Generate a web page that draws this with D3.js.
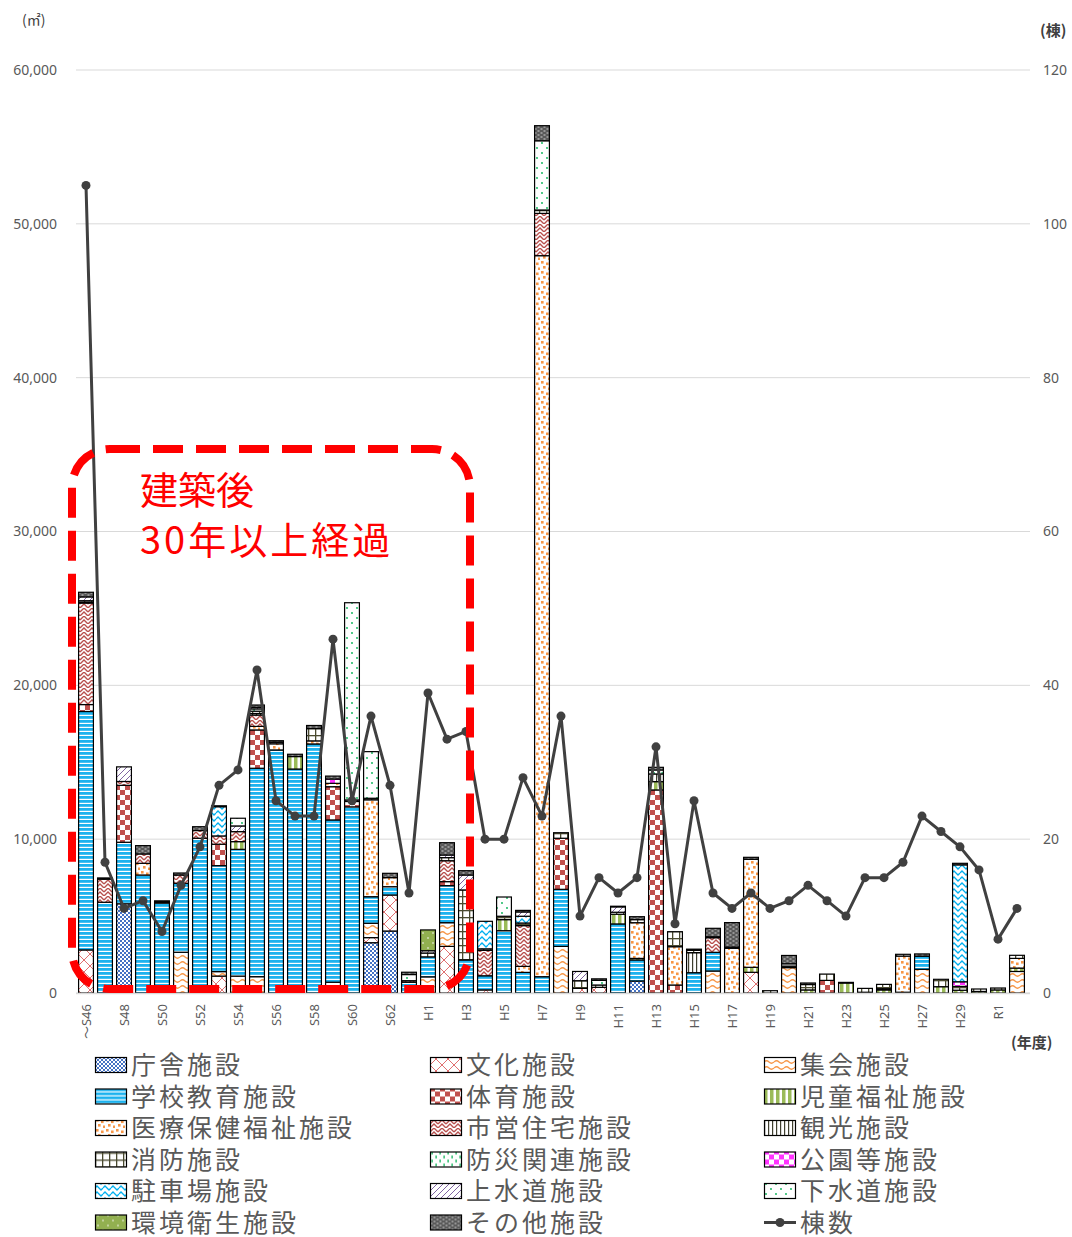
<!DOCTYPE html>
<html lang="ja">
<head>
<meta charset="utf-8">
<script src="https://cdn.jsdelivr.net/npm/d3@7"></script>
<style>
  html, body { margin: 0; padding: 0; background: #fff; }
  svg { display: block; font-family: "Noto Sans CJK JP", "Noto Sans", sans-serif; }
</style>
</head>
<body>
<script>
// 年度区分
const categories = [
  "～S46","S47","S48","S49","S50","S51","S52","S53","S54","S55",
  "S56","S57","S58","S59","S60","S61","S62","S63","H1","H2",
  "H3","H4","H5","H6","H7","H8","H9","H10","H11","H12",
  "H13","H14","H15","H16","H17","H18","H19","H20","H21","H22",
  "H23","H24","H25","H26","H27","H28","H29","H30","R1","R2"
];
const tickLabels = ["～S46","S48","S50","S52","S54","S56","S58","S60","S62","H1","H3","H5","H7",
  "H9","H11","H13","H15","H17","H19","H21","H23","H25","H27","H29","R1"];
const areaTicks = [0, 10000, 20000, 30000, 40000, 50000, 60000];
const countTicks = [0, 20, 40, 60, 80, 100, 120];

// 施設分類別 延床面積（㎡）
const chosha = [
  0,0,5800,0,0,0,0,0,0,0,
  0,0,0,0,0,3270,4030,0,0,0,
  0,0,0,0,0,0,0,0,0,780,
  0,0,0,0,0,0,0,0,0,0,
  0,0,0,0,0,0,0,0,0,0];
const bunka = [
  2800,0,0,0,0,0,0,1100,0,0,
  0,0,0,0,0,330,2340,0,0,3030,
  0,200,0,0,0,0,300,370,0,0,
  0,0,0,0,0,1345,0,0,0,0,
  0,0,0,0,0,0,0,0,0,0];
const shukai = [
  0,0,0,0,0,2650,0,290,1100,1060,
  0,0,0,700,0,930,0,0,1050,1540,
  0,0,0,0,0,3030,0,0,0,0,
  0,0,0,1430,0,0,0,1650,0,0,
  0,0,0,0,1540,0,0,0,0,1400];
const gakko = [
  15500,5900,4000,7670,5850,4480,10060,6890,8240,13550,
  15800,14560,16190,10550,12100,1730,540,700,1300,2410,
  2150,920,4050,1340,1060,3710,0,0,4490,1370,
  0,0,1320,1215,0,0,0,0,0,0,
  0,0,0,0,850,0,0,0,0,0];
const taiiku = [
  450,0,3700,0,0,0,0,1390,0,2490,
  0,0,0,2160,350,0,0,0,0,260,
  0,0,0,0,0,3320,0,0,0,0,
  13200,520,0,0,0,0,0,0,0,820,
  0,0,0,50,0,0,0,0,0,0];
const jido = [
  0,0,0,0,0,0,0,0,500,0,
  0,810,0,0,0,0,0,0,0,0,
  0,0,720,0,0,0,0,0,630,100,
  540,0,0,0,0,325,0,0,200,0,
  650,50,200,0,0,410,180,100,200,220];
const iryo = [
  0,0,0,760,0,0,0,0,0,230,
  400,0,200,220,0,6300,590,0,0,0,
  0,0,0,390,46870,0,0,0,0,2320,
  0,2490,0,0,2905,7020,0,0,0,0,
  0,0,0,2350,0,0,0,0,0,630];
const jutaku = [
  6600,1500,250,610,60,540,500,540,650,740,
  0,0,0,0,0,0,0,100,0,1360,
  0,1650,0,2650,2750,0,0,0,0,0,
  0,0,0,950,0,0,0,0,0,0,
  0,0,80,0,0,0,0,0,0,0];
const kanko = [
  50,0,0,0,0,0,0,0,0,100,
  0,0,0,0,0,0,0,0,0,0,
  0,0,0,0,0,0,0,0,0,0,
  500,0,1300,0,0,0,0,0,0,0,
  0,0,0,0,0,0,0,0,0,0];
const shobo = [
  100,0,0,0,0,0,0,0,0,150,
  0,0,800,0,0,100,0,0,250,200,
  4550,100,220,170,220,360,500,150,130,200,
  0,975,150,60,80,0,150,100,350,410,
  0,250,280,115,0,480,250,160,125,200];
const bosai = [
  0,0,0,0,0,0,0,0,0,150,
  0,0,0,0,0,0,0,0,0,0,
  0,0,0,0,0,0,0,0,0,0,
  260,0,0,0,0,0,0,0,0,0,
  0,0,0,0,0,0,0,0,0,0];
const koen = [
  0,0,0,0,0,0,0,0,0,0,
  0,0,0,280,0,0,0,0,0,0,
  0,0,0,0,0,0,0,0,0,0,
  0,0,0,0,0,0,0,0,0,0,
  0,0,0,0,0,0,300,0,0,0];
const chusha = [
  0,0,0,0,0,0,0,1900,0,0,
  0,0,0,0,0,0,0,0,0,0,
  0,1790,0,440,0,0,0,0,0,0,
  0,0,0,0,0,0,0,0,0,0,
  0,0,0,0,0,0,7600,0,0,0];
const josui = [
  250,0,950,0,0,0,0,0,370,100,
  100,0,0,0,100,0,0,0,150,170,
  970,0,0,280,0,0,600,0,350,0,
  0,0,0,0,0,0,0,0,0,0,
  0,0,0,0,0,0,0,0,0,0];
const gesui = [
  0,0,0,0,0,0,0,0,500,0,
  0,0,0,0,12820,3030,0,400,0,0,
  0,0,1250,0,4500,0,0,300,0,0,
  0,0,0,0,0,0,0,150,0,0,
  0,0,0,0,0,0,0,0,0,0];
const kankyo = [
  0,0,0,0,0,0,0,0,0,0,
  0,0,0,0,0,0,0,0,1350,0,
  0,0,0,0,0,0,0,0,0,0,
  0,0,0,0,0,0,0,0,0,0,
  0,0,0,0,0,0,0,0,0,0];
const sonota = [
  300,80,0,540,80,130,250,60,0,150,
  100,150,200,190,0,0,280,150,0,800,
  280,0,0,100,980,0,0,100,40,190,
  170,0,80,550,1590,130,0,540,100,0,
  40,0,0,0,150,0,100,0,0,0];

// 棟数
const buildings = [
  105,17,11,12,8,14,19,27,29,42,
  25,23,23,46,25,36,27,13,39,33,
  34,20,20,28,23,36,10,15,13,15,
  32,9,25,13,11,13,11,12,14,12,
  10,15,15,17,23,21,19,16,7,11];

const seriesKeys = ["chosha","bunka","shukai","gakko","taiiku","jido","iryo","jutaku","kanko",
  "shobo","bosai","koen","chusha","josui","gesui","kankyo","sonota"];
const seriesNames = ["庁舎施設","文化施設","集会施設","学校教育施設","体育施設","児童福祉施設",
  "医療保健福祉施設","市営住宅施設","観光施設","消防施設","防災関連施設","公園等施設",
  "駐車場施設","上水道施設","下水道施設","環境衛生施設","その他施設"];
const seriesValues = { chosha, bunka, shukai, gakko, taiiku, jido, iryo, jutaku, kanko,
  shobo, bosai, koen, chusha, josui, gesui, kankyo, sonota };

const rows = categories.map((c, i) => {
  const r = { year: c };
  seriesKeys.forEach(k => r[k] = seriesValues[k][i]);
  return r;
});

const W = 1072, H = 1237;
const svg = d3.select("body").append("svg").attr("width", W).attr("height", H);
const defs = svg.append("defs");

// hatch fills
function pat(id, w, h, bg) {
  const p = defs.append("pattern").attr("id", "p-" + id)
    .attr("patternUnits", "userSpaceOnUse").attr("width", w).attr("height", h);
  p.append("rect").attr("width", w).attr("height", h).attr("fill", bg);
  return p;
}
let p;
p = pat("chosha", 4, 4, "#ffffff");
p.append("rect").attr("x", 0).attr("y", 0).attr("width", 2).attr("height", 2).attr("fill", "#4472c4");
p.append("rect").attr("x", 2).attr("y", 2).attr("width", 2).attr("height", 2).attr("fill", "#4472c4");

p = pat("bunka", 12, 12, "#ffffff");
p.append("path").attr("d", "M0,0L12,12M12,0L0,12").attr("stroke", "#e07070").attr("stroke-width", 1).attr("fill", "none");

p = pat("shukai", 10, 6, "#ffffff");
p.append("path").attr("d", "M0,3 Q2.5,0.5 5,3 T10,3").attr("stroke", "#f79646").attr("stroke-width", 1.2).attr("fill", "none");

p = pat("gakko", 4, 4, "#ffffff");
p.append("rect").attr("x", 0).attr("y", 0).attr("width", 4).attr("height", 2.8).attr("fill", "#1cb2ee");

p = pat("taiiku", 10, 10, "#ffffff");
p.append("rect").attr("x", 0).attr("y", 0).attr("width", 5).attr("height", 5).attr("fill", "#c0504d");
p.append("rect").attr("x", 5).attr("y", 5).attr("width", 5).attr("height", 5).attr("fill", "#c0504d");

p = pat("jido", 6, 6, "#ffffff");
p.append("rect").attr("x", 0).attr("y", 0).attr("width", 3.5).attr("height", 6).attr("fill", "#9bbb59");

p = pat("iryo", 10, 10, "#ffffff");
[[1,1],[6,2.5],[3,6],[8,7.5]].forEach(([x, y]) =>
  p.append("rect").attr("x", x).attr("y", y).attr("width", 2.6).attr("height", 2.6).attr("fill", "#f79646"));

p = pat("jutaku", 8, 8, "#ffffff");
p.append("path").attr("d", "M0,4 L4,0 L8,4 M0,8 L4,4 L8,8").attr("stroke", "#b8504d").attr("stroke-width", 1.4).attr("fill", "none");

p = pat("kanko", 4, 4, "#ffffff");
p.append("rect").attr("x", 0).attr("y", 0).attr("width", 1.2).attr("height", 4).attr("fill", "#3f3f2f");

p = pat("shobo", 7, 7, "#ffffff");
p.append("rect").attr("x", 0).attr("y", 0).attr("width", 1.3).attr("height", 7).attr("fill", "#4a4a30");
p.append("rect").attr("x", 0).attr("y", 0).attr("width", 7).attr("height", 1.3).attr("fill", "#4a4a30");

p = pat("bosai", 8, 8, "#ffffff");
p.append("rect").attr("x", 1.5).attr("y", 0).attr("width", 1.2).attr("height", 3).attr("fill", "#00b050");
p.append("rect").attr("x", 5.5).attr("y", 4).attr("width", 1.2).attr("height", 3).attr("fill", "#00b050");

p = pat("koen", 10, 10, "#ffffff");
p.append("rect").attr("x", 0).attr("y", 0).attr("width", 5).attr("height", 5).attr("fill", "#ff33ff");
p.append("rect").attr("x", 5).attr("y", 5).attr("width", 5).attr("height", 5).attr("fill", "#ff33ff");

p = pat("chusha", 8, 6, "#ffffff");
p.append("path").attr("d", "M0,3 L2,1 L4,3 L6,5 L8,3").attr("stroke", "#00b0f0").attr("stroke-width", 1.3).attr("fill", "none");

p = pat("josui", 6, 6, "#ffffff");
p.append("path").attr("d", "M0,6L6,0M-1,1L1,-1M5,7L7,5").attr("stroke", "#8064a2").attr("stroke-width", 1).attr("fill", "none");

p = pat("gesui", 10, 10, "#ffffff");
p.append("circle").attr("cx", 2).attr("cy", 3).attr("r", 0.9).attr("fill", "#00b050");
p.append("circle").attr("cx", 7).attr("cy", 8).attr("r", 0.9).attr("fill", "#00b050");

p = pat("kankyo", 10, 10, "#92b050");
p.append("circle").attr("cx", 3).attr("cy", 3).attr("r", 0.8).attr("fill", "#ffffff");
p.append("circle").attr("cx", 8).attr("cy", 8).attr("r", 0.8).attr("fill", "#ffffff");

p = pat("sonota", 6, 4, "#595959");
p.append("rect").attr("x", 0.5).attr("y", 0.5).attr("width", 2).attr("height", 1).attr("fill", "#d0d0d0");
p.append("rect").attr("x", 3.5).attr("y", 2.5).attr("width", 2).attr("height", 1).attr("fill", "#d0d0d0");

// scales
const x = d3.scaleBand().domain(categories).range([76.5, 1026.5]).paddingInner(0.22).paddingOuter(0.11);
const y = d3.scaleLinear().domain([0, 60000]).range([993, 70]);
const yR = d3.scaleLinear().domain([0, 120]).range([993, 70]);
const textGrey = "#595959";

// gridlines
svg.append("g").selectAll("line").data(areaTicks).join("line")
  .attr("x1", 76).attr("x2", 1030)
  .attr("y1", d => y(d)).attr("y2", d => y(d))
  .attr("stroke", "#d9d9d9").attr("stroke-width", 1);

// left axis
const yAxis = svg.append("g").attr("transform", "translate(62,0)")
  .call(d3.axisLeft(y).tickValues(areaTicks).tickFormat(d3.format(",")).tickSize(0).tickPadding(5));
yAxis.select(".domain").remove();
yAxis.selectAll("text").attr("fill", textGrey).attr("font-size", 14).attr("font-family", "'Noto Sans', sans-serif");

// right axis
const yAxisR = svg.append("g").attr("transform", "translate(1038,0)")
  .call(d3.axisRight(yR).tickValues(countTicks).tickSize(0).tickPadding(5));
yAxisR.select(".domain").remove();
yAxisR.selectAll("text").attr("fill", textGrey).attr("font-size", 14).attr("font-family", "'Noto Sans', sans-serif");

// x axis labels
const xAxis = svg.append("g").attr("transform", "translate(0,1000)")
  .call(d3.axisBottom(x).tickValues(tickLabels).tickSize(0).tickPadding(0));
xAxis.select(".domain").remove();
xAxis.selectAll("text")
  .attr("fill", textGrey).attr("font-size", 13)
  .attr("font-family", "'Noto Sans', 'Noto Sans CJK JP', sans-serif")
  .attr("transform", "rotate(-90)")
  .attr("text-anchor", "end")
  .attr("dy", "0.35em").attr("x", -4).attr("y", 0);

// stacked bars
const stacked = d3.stack().keys(seriesKeys)(rows);
const layers = svg.append("g").selectAll("g").data(stacked).join("g")
  .attr("fill", d => `url(#p-${d.key})`);
layers.selectAll("rect")
  .data(d => d.filter(s => s[1] - s[0] > 0))
  .join("rect")
  .attr("x", d => x(d.data.year))
  .attr("width", x.bandwidth())
  .attr("y", d => y(d[1]))
  .attr("height", d => y(d[0]) - y(d[1]))
  .attr("stroke", "#000").attr("stroke-width", 1.2);

// baseline
svg.append("line").attr("x1", 76).attr("x2", 1030).attr("y1", 993.5).attr("y2", 993.5)
  .attr("stroke", "#d9d9d9").attr("stroke-width", 1.5);

// building-count line
const line = d3.line().x((d, i) => x(categories[i]) + x.bandwidth() / 2).y(d => yR(d));
svg.append("path").datum(buildings).attr("d", line)
  .attr("fill", "none").attr("stroke", "#404040").attr("stroke-width", 3).attr("stroke-linejoin", "round");
svg.append("g").selectAll("circle").data(buildings).join("circle")
  .attr("cx", (d, i) => x(categories[i]) + x.bandwidth() / 2)
  .attr("cy", d => yR(d)).attr("r", 4.5).attr("fill", "#404040");

// highlight: buildings older than 30 years
svg.append("rect").attr("x", 72).attr("y", 449).attr("width", 398).attr("height", 540)
  .attr("rx", 38).attr("ry", 38)
  .attr("fill", "none").attr("stroke", "#ff0000").attr("stroke-width", 8)
  .attr("stroke-dasharray", "30,13");
svg.append("text").attr("x", 140).attr("y", 504).attr("font-size", 38).attr("fill", "#ff0000").text("建築後");
svg.append("text").attr("x", 140).attr("y", 554).attr("font-size", 38).attr("letter-spacing", 3)
  .attr("fill", "#ff0000").text("30年以上経過");

// units
svg.append("text").attr("x", 22).attr("y", 25).attr("font-size", 14).attr("fill", "#404040").text("(㎡)");
svg.append("text").attr("x", 1040).attr("y", 36).attr("font-size", 15).attr("font-weight", "bold").attr("fill", "#404040").text("(棟)");
svg.append("text").attr("x", 1011).attr("y", 1048).attr("font-size", 15).attr("font-weight", "bold").attr("fill", "#404040").text("(年度)");

// legend
const legendItems = seriesKeys.map((k, i) => ({ key: k, name: seriesNames[i] }))
  .concat([{ key: "line", name: "棟数" }]);
const colX = [95, 430, 764];
const legend = svg.append("g").selectAll("g").data(legendItems).join("g")
  .attr("transform", (d, i) => `translate(${colX[i % 3]},${1065 + Math.floor(i / 3) * 31.5})`);
legend.each(function(d) {
  const g = d3.select(this);
  if (d.key === "line") {
    g.append("line").attr("x1", 0).attr("x2", 32).attr("y1", 0).attr("y2", 0)
      .attr("stroke", "#404040").attr("stroke-width", 3);
    g.append("circle").attr("cx", 16).attr("cy", 0).attr("r", 4.5).attr("fill", "#404040");
  } else {
    g.append("rect").attr("x", 0.5).attr("y", -7.5).attr("width", 31).attr("height", 15)
      .attr("fill", `url(#p-${d.key})`).attr("stroke", "#000").attr("stroke-width", 1.2);
  }
  g.append("text").attr("x", 36).attr("y", 0).attr("dy", "0.36em")
    .attr("font-size", 25).attr("letter-spacing", 3).attr("fill", textGrey).text(d.name);
});
</script>
</body>
</html>
